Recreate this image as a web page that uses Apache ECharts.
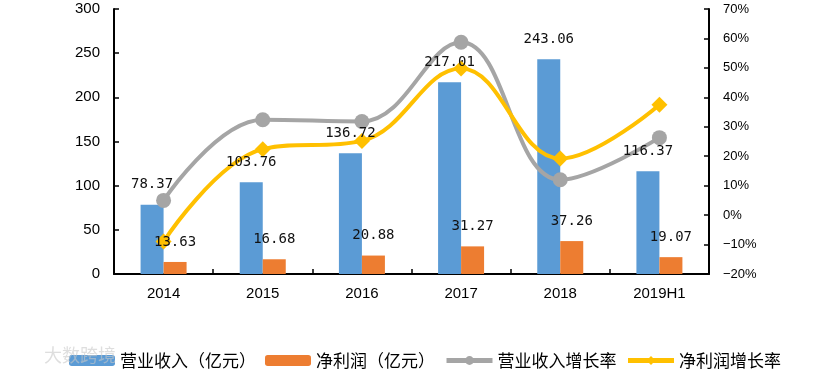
<!DOCTYPE html>
<html><head><meta charset="utf-8">
<script src="https://cdn.jsdelivr.net/npm/echarts@6/dist/echarts.min.js"></script>
<style>html,body{margin:0;padding:0;background:#fff}#c{width:823px;height:374px}</style>
</head><body><div id="c"></div>
<script>
const categories = ['2014','2015','2016','2017','2018','2019H1'];
const revenue = [78.37, 103.76, 136.72, 217.01, 243.06, 116.37];
const netProfit = [13.63, 16.68, 20.88, 31.27, 37.26, 19.07];
const revenueGrowth = [5, 32.4, 31.8, 58.7, 12.0, 26.3];
const profitGrowth = [-9, 22.4, 25.2, 49.8, 19.2, 37.5];
const seriesNames = ['营业收入（亿元）','净利润（亿元）','营业收入增长率','净利润增长率'];

const chart = echarts.init(document.getElementById('c'));
const labelStyle = {show:true, position:'top', distance:13, fontFamily:'DejaVu Sans Mono', fontSize:14, color:'#111'};
const axisCommon = {
  axisLine:{lineStyle:{color:'#000', width:2}},
  axisTick:{show:true, inside:true, length:5, lineStyle:{color:'#000', width:1.5}}
};
chart.setOption({
  animation:false,
  grid:{left:114, right:114, top:9, bottom:100},
  legend:{
    left:64, top:347, itemWidth:46, itemHeight:11, itemGap:9,
    textStyle:{fontSize:17, color:'#000', fontFamily:'Noto Sans CJK SC'},
    data:[
      {name:seriesNames[0]},
      {name:seriesNames[1]},
      {name:seriesNames[2], lineStyle:{width:5}},
      {name:seriesNames[3], lineStyle:{width:5}}
    ]
  },
  graphic:[{type:'text', left:44, top:346, style:{text:'大数跨境', fontSize:18, fill:'rgba(200,200,200,0.6)', fontFamily:'Noto Sans CJK SC'}, z:100}],
  xAxis:[
    Object.assign({type:'category', data:categories,
      axisLabel:{fontSize:15, color:'#000', margin:12, fontFamily:'Liberation Sans'}}, axisCommon),
    {type:'category', data:categories, show:false}
  ],
  yAxis:[
    Object.assign({type:'value', min:0, max:300, interval:50, splitLine:{show:false},
     axisLabel:{fontSize:15, color:'#000', margin:14, fontFamily:'Liberation Sans'}}, axisCommon, {axisLine:{show:true, lineStyle:{color:'#000', width:2}}}),
    Object.assign({type:'value', min:-20, max:70, interval:10, splitLine:{show:false},
     axisLabel:{fontSize:13, color:'#000', margin:14, fontFamily:'Liberation Sans', formatter:v=>(v<0?'\u2212'+(-v):v)+'%'}}, axisCommon, {axisLine:{show:true, lineStyle:{color:'#000', width:2}}})
  ],
  series:[
    {name:seriesNames[0], type:'bar', data:revenue, barWidth:23, barGap:'0%', itemStyle:{color:'#5B9BD5'}, z:2},
    {name:seriesNames[1], type:'bar', data:netProfit, barWidth:23, itemStyle:{color:'#ED7D31'}, z:2},
    {name:seriesNames[2], type:'line', yAxisIndex:1, data:revenueGrowth, smooth:0.4, symbol:'circle', symbolSize:15,
     lineStyle:{color:'#A5A5A5', width:4}, itemStyle:{color:'#A5A5A5'}, z:3},
    {name:seriesNames[3], type:'line', yAxisIndex:1, data:profitGrowth, smooth:0.4, symbol:'diamond', symbolSize:16,
     lineStyle:{color:'#FFC000', width:4}, itemStyle:{color:'#FFC000'}, z:3},
    {name:'revLabel', type:'bar', xAxisIndex:1, data:revenue, barWidth:23, barGap:'0%', silent:true,
     itemStyle:{color:'rgba(0,0,0,0)'}, label:labelStyle, z:10},
    {name:'profitLabel', type:'bar', xAxisIndex:1, data:netProfit, barWidth:23, silent:true,
     itemStyle:{color:'rgba(0,0,0,0)'}, label:labelStyle, z:10}
  ]
});
</script></body></html>
